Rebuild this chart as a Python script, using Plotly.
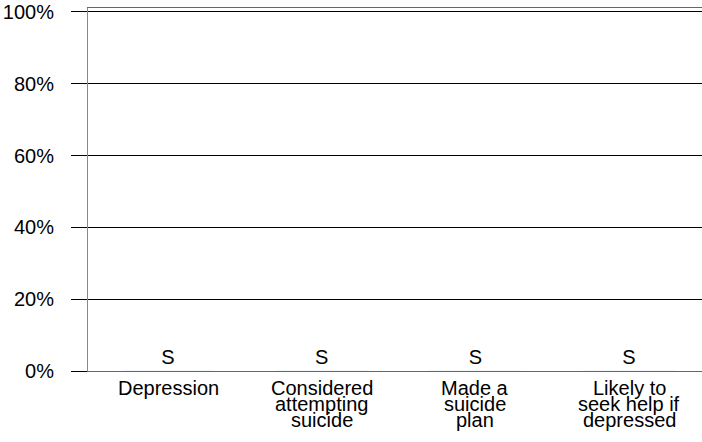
import plotly.graph_objects as go

categories = ["Depression", "Considered attempting suicide", "Made a suicide plan",
              "Likely to seek help if depressed"]
label_lines = [["Depression"], ["Considered", "attempting", "suicide"],
               ["Made a", "suicide", "plan"], ["Likely to", "seek help if", "depressed"]]
values = [0, 0, 0, 0]
bar_text = ["S", "S", "S", "S"]
y_ticks = [0, 20, 40, 60, 80, 100]
y_tick_labels = ["0%", "20%", "40%", "60%", "80%", "100%"]

FONT = "Liberation Sans, Arial, sans-serif"

fig = go.Figure(go.Bar(
    x=categories, y=values, text=bar_text, textposition="outside",
    textfont=dict(size=20, color="black", family=FONT),
    marker_color="#4a7ebb", cliponaxis=False, width=0.6,
))

# category labels, one annotation per line for the tight line spacing
for cat, lines in zip(categories, label_lines):
    for i, line in enumerate(lines):
        fig.add_annotation(x=cat, y=0, xref="x", yref="y", text=line, showarrow=False,
                           yanchor="middle", yshift=-17 - 16 * i,
                           font=dict(size=20, color="black", family=FONT))

fig.update_layout(
    width=702, height=442,
    margin=dict(l=88, r=0, t=8, b=71),
    paper_bgcolor="white", plot_bgcolor="white",
    showlegend=False,
    font=dict(family=FONT, size=20, color="black"),
)
fig.update_xaxes(
    range=[-0.5206, 3.475], showticklabels=False, ticks="",
    showline=True, linecolor="#666666", linewidth=1, mirror=True,
    showgrid=False,
)
fig.update_yaxes(
    range=[0, 101.1], tickvals=y_ticks, ticktext=y_tick_labels,
    ticks="outside", ticklen=16, tickcolor="black", tickwidth=1,
    ticklabelstandoff=13,
    showgrid=True, gridcolor="black", gridwidth=1,
    zeroline=True, zerolinecolor="#333333", zerolinewidth=1,
    showline=True, linecolor="#888888", linewidth=1,
    tickfont=dict(size=20, color="black", family=FONT),
)

# drop the page's default body margin so the figure sits at the window corner
fig.write_html("out.html", config={"displayModeBar": False},
               post_script="document.body.style.margin='0';")
